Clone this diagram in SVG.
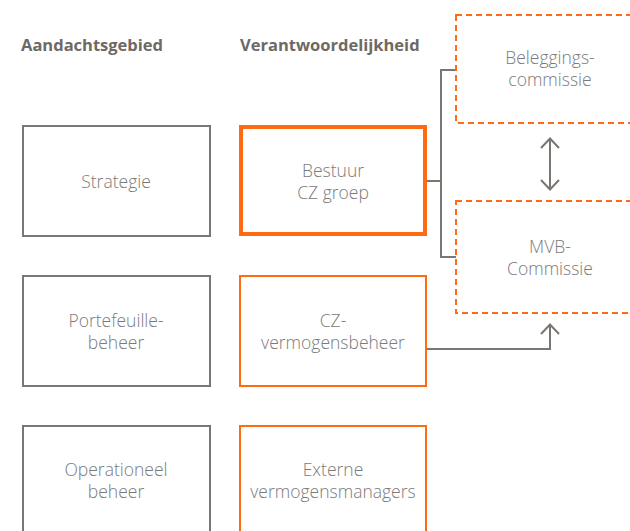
<svg xmlns="http://www.w3.org/2000/svg" width="630" height="531" viewBox="0 0 630 531">
<defs>
<style>
.hd{font-family:"Open Sans","Liberation Sans",sans-serif;font-weight:700;font-size:16.5px;fill:#6d6964}
.t{font-family:"Open Sans","Liberation Sans",sans-serif;font-weight:300;font-size:17.5px;fill:#7a7a7a;text-anchor:middle}
.g{fill:#fff;stroke:#7a7672;stroke-width:2}
.o{fill:#fff;stroke:#ff6a13;stroke-width:2}
.ob{fill:#fff;stroke:#ff6a13;stroke-width:4}
.od{fill:#fff;stroke:#ff6a13;stroke-width:2;stroke-dasharray:6 4}
.c{fill:none;stroke:#7a7672;stroke-width:2}
</style>
<marker id="ah" viewBox="0 0 12 20" refX="11" refY="10" markerWidth="12" markerHeight="20" markerUnits="userSpaceOnUse" orient="auto-start-reverse">
<path d="M1 1 L10.5 10 L1 19" fill="none" stroke="#7a7672" stroke-width="2"/>
</marker>
</defs>
<rect width="630" height="531" fill="#fff"/>
<text class="hd" x="21" y="51">Aandachtsgebied</text>
<text class="hd" x="240" y="51">Verantwoordelijkheid</text>

<g id="connectors">
<path class="c" d="M426 181 H441 M456 70 H441 V257 H456"/>
<line class="c" x1="550" y1="138" x2="550" y2="190" marker-start="url(#ah)" marker-end="url(#ah)"/>
<path class="c" d="M426 349 H550 V324" marker-end="url(#ah)"/>
</g>

<g id="strategie"><rect class="g" x="23" y="126" width="187" height="110"/><text class="t" x="116" y="188">Strategie</text></g>
<g id="portefeuille"><rect class="g" x="23" y="276" width="187" height="110"/><text class="t" x="116" y="327">Portefeuille-</text><text class="t" x="116" y="349">beheer</text></g>
<g id="operationeel"><rect class="g" x="23" y="426" width="187" height="120"/><text class="t" x="116" y="476">Operationeel</text><text class="t" x="116" y="498">beheer</text></g>

<g id="bestuur"><rect class="ob" x="241" y="127" width="184" height="107"/><text class="t" x="333" y="177">Bestuur</text><text class="t" x="333" y="199">CZ groep</text></g>
<g id="cz-vermogensbeheer"><rect class="o" x="240" y="276" width="186" height="110"/><text class="t" x="333" y="327">CZ-</text><text class="t" x="333" y="349">vermogensbeheer</text></g>
<g id="externe"><rect class="o" x="240" y="426" width="186" height="120"/><text class="t" x="333" y="476">Externe</text><text class="t" x="333" y="498">vermogensmanagers</text></g>

<g id="beleggingscommissie"><rect class="od" x="456" y="15" width="200" height="108"/><text class="t" x="550" y="64">Beleggings-</text><text class="t" x="550" y="86">commissie</text></g>
<g id="mvb-commissie"><rect class="od" x="456" y="201" width="200" height="112"/><text class="t" x="550" y="253">MVB-</text><text class="t" x="550" y="275">Commissie</text></g>
</svg>
